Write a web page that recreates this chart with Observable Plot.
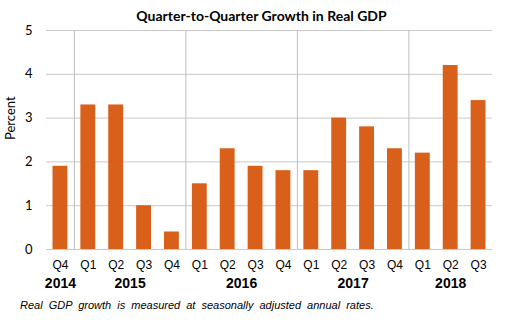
<!DOCTYPE html>
<html>
<head>
<meta charset="utf-8">
<script src="https://cdn.jsdelivr.net/npm/d3@7"></script>
<script src="https://cdn.jsdelivr.net/npm/@observablehq/plot@0.6"></script>
<style>
  html, body { margin: 0; padding: 0; background: #fff; }
  #wrap { width: 511px; height: 325px; position: relative; overflow: hidden; }
  #title { padding-top: 6px; height: 20px; line-height: 20px; text-align: center; font-family: Lato, "Open Sans", sans-serif; font-weight: bold; font-size: 14px; color: #000; padding-left: 12px; }
  #caption { font-family: "Liberation Sans", Arial, sans-serif; font-style: italic; font-size: 11px; line-height: 14px; height: 14px; padding-left: 20px; color: #000; word-spacing: 3px; }
  svg { overflow: visible; display: block; }
</style>
</head>
<body>
<div id="wrap">
  <div id="title">Quarter-to-Quarter Growth in Real GDP</div>
  <div id="chart"></div>
  <div id="caption">Real GDP growth is measured at seasonally adjusted annual rates.</div>
</div>
<script>
const quarters = ["Q4", "Q1", "Q2", "Q3", "Q4", "Q1", "Q2", "Q3", "Q4", "Q1", "Q2", "Q3", "Q4", "Q1", "Q2", "Q3"];
const years = ["2014", "2015", "2015", "2015", "2015", "2016", "2016", "2016", "2016", "2017", "2017", "2017", "2017", "2018", "2018", "2018"];
const growth = [1.9, 3.3, 3.3, 1.0, 0.4, 1.5, 2.3, 1.9, 1.8, 1.8, 3.0, 2.8, 2.3, 2.2, 4.2, 3.4];
const yTicks = [0, 1, 2, 3, 4, 5];

const rows = growth.map((v, i) => ({i, quarter: quarters[i], year: years[i], value: v}));
const yearGroups = Array.from(d3.group(rows, d => d.year), ([year, g]) => ({
  year,
  start: d3.min(g, d => d.i),
  center: d3.mean(g, d => d.i + 0.5)
}));
const separators = yearGroups.slice(1).map(d => d.start);

const barColor = "#D9601B";
const gridColor = "#C9C9C9";

const chart = Plot.plot({
  width: 511,
  height: 272,
  marginLeft: 46,
  marginRight: 19,
  marginTop: 4,
  marginBottom: 49,
  style: {fontFamily: "Lato, 'Open Sans', sans-serif", fontSize: "13px", color: "#000", background: "#fff"},
  x: {domain: [0, quarters.length], axis: null},
  y: {domain: [0, 5], axis: null},
  marks: [
    Plot.ruleY(yTicks, {stroke: gridColor, strokeWidth: 1}),
    Plot.ruleX(separators, {y1: 0, y2: 5, stroke: "#BDBDBD", strokeWidth: 1}),
    Plot.rectY(rows, {x1: "i", x2: d => d.i + 1, y: "value", insetLeft: 6.5, insetRight: 6.5, fill: barColor}),
    Plot.axisY(yTicks, {tickSize: 0, tickPadding: 14, label: null, fontSize: 13, tickFormat: d3.format("d")}),
    Plot.text(["Percent"], {frameAnchor: "left", dx: -36, rotate: -90, fontSize: 13}),
    Plot.text(rows, {x: d => d.i + 0.5, y: () => 0, text: "quarter", dy: 16, fontSize: 12, fontFamily: "'Liberation Sans', Arial, sans-serif"}),
    Plot.text(yearGroups, {x: "center", y: () => 0, text: "year", dy: 34, fontSize: 14, fontWeight: "bold", fontFamily: "'Liberation Sans', Arial, sans-serif"})
  ]
});
document.getElementById("chart").appendChild(chart);
</script>
</body>
</html>
